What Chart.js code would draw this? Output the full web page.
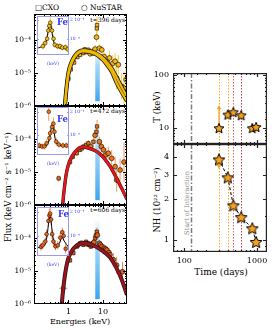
<!DOCTYPE html>
<html><head><meta charset="utf-8">
<script src="https://cdn.jsdelivr.net/npm/chart.js@4.4.1/dist/chart.umd.min.js"></script>
<style>
html,body{margin:0;padding:0;background:#fff;}
body{position:relative;width:274px;height:330px;overflow:hidden;font-family:"DejaVu Serif",serif;}
canvas{position:absolute;left:0;top:0;}
.lbl{position:absolute;white-space:nowrap;line-height:1;color:#000;}
.rot{transform:translate(-50%,-50%) rotate(-90deg);}
.fe{position:absolute;font-weight:bold;font-size:8.5px;color:#3434f2;line-height:1;font-family:"DejaVu Serif",serif;}
</style></head><body>
<div class="lbl" style="left:35px;top:4px;font-size:7.5px">□CXO</div>
<div class="lbl" style="left:81px;top:4px;font-size:7.5px">○ NuSTAR</div>
<div class="lbl" style="right:149px;top:17px;font-size:6px">t=396 days</div>
<div class="lbl" style="right:149px;top:108px;font-size:6px">t=472 days</div>
<div class="lbl" style="right:149px;top:207px;font-size:6px">t=606 days</div>
<div class="lbl rot" style="left:8px;top:187px;font-size:8.5px">Flux (keV cm⁻² s⁻¹ keV⁻¹)</div>
<div class="lbl" style="left:80px;top:322px;font-size:8px;transform:translate(-50%,-50%)">Energies (keV)</div>
<div class="lbl rot" style="left:157px;top:107px;font-size:8.5px">T (keV)</div>
<div class="lbl rot" style="left:157px;top:200px;font-size:8.5px">NH  (10²² cm⁻²)</div>
<div class="lbl" style="left:221px;top:272px;font-size:9px;transform:translate(-50%,-50%)">Time (days)</div>
<div class="lbl rot" style="left:187px;top:203px;font-size:6.5px;color:#8a8a8a">Start of Interaction</div>
<script>
// ================= DATA =================
const fluxTickVals = [1e-6, 1e-5, 1e-4];
const fluxTickText = ['10⁻⁶', '10⁻⁵', '10⁻⁴'];
const energyTickVals = [1, 10];
const feBand = [6.0, 8.1];
const bandTops = [5e-5, 2.5e-4, 3.5e-4];
const bandBottom = 1.4e-6;

// panel 1 : t = 396 days
const p1ModelAE = [0.72, 0.8, 0.9, 1.0, 1.2, 1.5, 2.0, 2.7, 4, 6, 8, 10, 13, 18, 25, 35, 50];
const p1ModelAF = [2e-7, 1e-6, 4e-6, 9e-6, 1.8e-5, 3.0e-5, 4.2e-5, 4.6e-5, 4.4e-5, 3.8e-5, 3.1e-5, 2.5e-5, 1.8e-5, 1.1e-5, 5e-6, 2.6e-6, 1.4e-6];
const p1ModelBE = [0.7, 0.78, 0.9, 1.0, 1.2, 1.5, 2.0, 2.7, 4, 6, 8, 10, 13, 18, 25, 35, 50];
const p1ModelBF = [2e-7, 1e-6, 5e-6, 1.1e-5, 2.1e-5, 3.3e-5, 4.5e-5, 5.0e-5, 4.8e-5, 4.2e-5, 3.5e-5, 2.9e-5, 2.2e-5, 1.4e-5, 7.5e-6, 3.8e-6, 1.9e-6];
const p1E = [1.0, 1.17, 1.46, 1.82, 2.17, 2.4, 2.72, 3.0, 3.25, 3.79, 4.24, 4.6, 5.08, 5.5, 5.93, 6.5, 6.65, 6.75, 7.9, 9.3, 10.8, 13, 15.5, 19.4, 22.6, 25, 28, 35, 41, 47];
const p1F = [6.8e-6, 1.3e-5, 2.1e-5, 3.1e-5, 3.6e-5, 4.6e-5, 4.1e-5, 5.3e-5, 4.4e-5, 5.1e-5, 3.9e-5, 4.5e-5, 4.1e-5, 4.8e-5, 5.4e-5, 1.24e-4, 2.3e-4, 2.9e-4, 5.7e-5, 5.1e-5, 3.2e-5, 2.3e-5, 2.9e-5, 2.0e-5, 2.3e-5, 7.1e-6, 1.8e-5, 4.0e-6, 3.5e-6, 6.3e-6];
const p1Err = [0.12, 0.1, 0.08, 0.08, 0.08, 0.08, 0.08, 0.08, 0.08, 0.1, 0.1, 0.1, 0.1, 0.1, 0.12, 0.15, 0.2, 0.25, 0.12, 0.12, 0.15, 0.18, 0.2, 0.25, 0.25, 0.35, 0.3, 0.4, 0.5, 0.45];
const p1Inst = ['C','C','C','C','C','C','C','C','C','C','N','C','N','C','N','N','C','C','N','N','N','N','N','N','N','N','N','N','N','N'];

// panel 2 : t = 472 days
const p2ModelE = [0.62, 0.68, 0.8, 0.9, 1.1, 1.4, 1.8, 2.3, 3, 4, 6, 8, 12, 16, 25, 35, 50];
const p2ModelF = [2e-7, 1e-6, 5e-6, 1.1e-5, 2.2e-5, 3.5e-5, 4.8e-5, 5.6e-5, 5.6e-5, 5.2e-5, 4.4e-5, 3.6e-5, 2.3e-5, 1.5e-5, 6.4e-6, 3.2e-6, 1.5e-6];
const p2E = [0.52, 1.11, 1.33, 1.74, 2.17, 2.45, 2.72, 3.25, 3.79, 4.45, 5.3, 5.93, 6.5, 6.75, 7.9, 9.0, 10.3, 12.2, 14.3, 18, 22.6, 25, 31.5, 41];
const p2F = [6.4e-6, 2.0e-5, 2.9e-5, 3.7e-5, 4.7e-5, 5.2e-5, 5.9e-5, 6.6e-5, 7.4e-5, 5.9e-5, 8.3e-5, 1.3e-4, 1.66e-4, 2.4e-4, 8.3e-5, 5.9e-5, 4.7e-5, 3.3e-5, 3.7e-5, 2.6e-5, 1.45e-5, 5.7e-6, 1.15e-5, 2.0e-5];
const p2Err = [0.1, 0.1, 0.1, 0.08, 0.08, 0.08, 0.08, 0.1, 0.1, 0.1, 0.12, 0.12, 0.15, 0.2, 0.15, 0.15, 0.15, 0.2, 0.2, 0.25, 0.3, 0.35, 0.35, 0.6];
const p2ErrX = [0.07, 0.03, 0.03, 0.03, 0.03, 0.03, 0.03, 0.03, 0.03, 0.03, 0.03, 0.02, 0.02, 0.02, 0.03, 0.03, 0.03, 0.03, 0.04, 0.04, 0.04, 0.04, 0.05, 0.05];
const p2Inst = ['C','C','C','C','C','C','C','C','C','N','C','N','C','C','N','N','N','N','N','N','N','N','N','N'];

// panel 3 : t = 606 days
const p3ModelE = [0.58, 0.64, 0.75, 0.85, 1.0, 1.3, 1.7, 2.3, 3, 4, 6, 10, 16, 25, 35, 50];
const p3ModelF = [2e-7, 1e-6, 5e-6, 1.2e-5, 2.5e-5, 4.3e-5, 5.8e-5, 6.8e-5, 7.0e-5, 6.6e-5, 5.6e-5, 4.0e-5, 2.6e-5, 1.2e-5, 5.5e-6, 1.9e-6];
const p3E = [0.71, 1.11, 1.39, 1.74, 1.9, 2.17, 2.4, 2.72, 3.0, 3.25, 3.5, 3.79, 4.1, 4.45, 4.8, 5.08, 5.5, 5.93, 6.4, 6.63, 6.9, 7.9, 8.5, 9.3, 10.8, 12, 13, 15, 16, 20, 25, 37];
const p3F = [3e-6, 2.1e-5, 3.5e-5, 5.5e-5, 6.0e-5, 6.9e-5, 7.2e-5, 6.2e-5, 6.8e-5, 7.7e-5, 7.0e-5, 6.2e-5, 6.5e-5, 5.5e-5, 6.0e-5, 6.9e-5, 7.5e-5, 9.8e-5, 1.2e-4, 1.55e-4, 1.23e-4, 6.9e-5, 6.2e-5, 5.5e-5, 4.9e-5, 4.6e-5, 4.3e-5, 3.6e-5, 3.1e-5, 2.2e-5, 1.5e-5, 9.5e-6];
const p3Err = [0.15, 0.08, 0.07, 0.06, 0.06, 0.06, 0.06, 0.06, 0.06, 0.06, 0.06, 0.07, 0.07, 0.07, 0.07, 0.08, 0.08, 0.1, 0.1, 0.12, 0.12, 0.1, 0.1, 0.1, 0.12, 0.12, 0.12, 0.15, 0.15, 0.2, 0.25, 0.3];
const p3ErrX = [0.12, 0.03, 0.03, 0.03, 0.03, 0.03, 0.03, 0.03, 0.03, 0.03, 0.03, 0.03, 0.03, 0.03, 0.03, 0.03, 0.03, 0.02, 0.02, 0.02, 0.02, 0.03, 0.03, 0.03, 0.03, 0.03, 0.03, 0.04, 0.04, 0.05, 0.05, 0.08];
const p3Inst = ['C','C','C','C','C','C','C','C','C','C','C','C','N','C','N','C','N','C','N','C','N','N','N','N','N','N','N','N','N','N','N','N'];

// Fe-line insets
const insetTickVals = [6, 7, 8];
const insetYTickVals = [1e-4, 2e-4];
const insetYTickText = ['10⁻⁴', '2 10⁻⁴'];
const in1E = [6.15, 6.36, 6.55, 6.66, 6.75, 6.85, 7.0, 7.15, 7.27, 7.52, 7.75, 7.97, 8.27, 8.48];
const in1F = [7.6e-5, 8.5e-5, 1.0e-4, 1.35e-4, 1.6e-4, 1.8e-4, 1.35e-4, 1.0e-4, 8.0e-5, 7.6e-5, 7.6e-5, 7.2e-5, 7.3e-5, 6.8e-5];
const in1Err = [0.05, 0.05, 0.06, 0.07, 0.08, 0.1, 0.07, 0.06, 0.05, 0.05, 0.05, 0.05, 0.05, 0.05];
const in1ModelE = [5.6, 6.2, 6.45, 6.6, 6.75, 6.85, 6.95, 7.1, 7.3, 7.6, 8.0, 8.6];
const in1ModelF = [7e-5, 7.8e-5, 9e-5, 1.2e-4, 1.65e-4, 1.75e-4, 1.5e-4, 1.0e-4, 7.8e-5, 7.2e-5, 7.0e-5, 6.8e-5];
const in2E = [5.81, 6.07, 6.29, 6.5, 6.7, 6.76, 6.83, 7.02, 7.14, 7.24, 7.4, 7.65, 8.03, 8.35];
const in2F = [7.3e-5, 7.1e-5, 7.1e-5, 7.8e-5, 2.0e-4, 9.1e-5, 1.05e-4, 1.27e-4, 1.4e-4, 1.1e-4, 8.2e-5, 7.5e-5, 7.3e-5, 7.3e-5];
const in2Err = [0.04, 0.04, 0.04, 0.05, 0.12, 0.05, 0.06, 0.07, 0.08, 0.07, 0.05, 0.04, 0.04, 0.04];
const in2ModelE = [5.6, 6.3, 6.6, 6.8, 6.95, 7.05, 7.15, 7.3, 7.5, 8.0, 8.6];
const in2ModelF = [7e-5, 7.1e-5, 7.6e-5, 9.5e-5, 1.25e-4, 1.38e-4, 1.25e-4, 9e-5, 7.6e-5, 7.2e-5, 7e-5];
const in3E = [5.97, 6.12, 6.38, 6.5, 6.67, 6.76, 6.83, 6.92, 7.02, 7.14, 7.33, 7.55, 7.78, 7.97, 8.1, 8.29];
const in3F = [7.2e-5, 7.5e-5, 8.4e-5, 1.04e-4, 1.53e-4, 1.8e-4, 1.9e-4, 1.6e-4, 1.04e-4, 8.4e-5, 7.3e-5, 7.5e-5, 9.4e-5, 1.1e-4, 9.9e-5, 6.8e-5];
const in3Err = [0.05, 0.05, 0.05, 0.06, 0.07, 0.08, 0.08, 0.07, 0.06, 0.05, 0.05, 0.05, 0.06, 0.06, 0.06, 0.06];
const in3ModelE = [5.6, 6.3, 6.55, 6.7, 6.8, 6.9, 7.0, 7.15, 7.4, 7.7, 7.95, 8.15, 8.6];
const in3ModelF = [7e-5, 7.5e-5, 1.0e-4, 1.5e-4, 1.75e-4, 1.6e-4, 1.2e-4, 8.5e-5, 7.3e-5, 8e-5, 9.5e-5, 8.5e-5, 7e-5];

// evolution panels
const obsDays = [300, 396, 472, 606, 860, 970];
const tempKeV = [10, 18, 20, 17.5, 10, 10.5];
const tLowerLimit = [27, null, null, null, null, null];
const nh22 = [3.86, 2.86, 1.79, 1.47, 1.22, 0.97];
const nhUpperLimit = [3.3, null, null, null, null, null];
const epochLines = [300, 396, 472, 606];
const epochLineColors = ['#f5a623', '#f5a623', '#e0606a', '#c8404e'];
const interactionStart = 125;
const timeTickVals = [100, 1000];
const tTickVals = [10, 100];
const nhTickVals = [1, 2, 3, 4];

// ================= RENDERING =================
const W = 274, H = 330;
const FONT = '"DejaVu Serif", serif';
const near = (a, b) => Math.abs(a - b) <= 1e-6 * Math.abs(b);
const zip = (xs, ys) => xs.map((x, i) => ({x: x, y: ys[i]}));
function addCanvas() {
  const c = document.createElement('canvas');
  c.width = W; c.height = H; c.style.width = W + 'px'; c.style.height = H + 'px';
  document.body.appendChild(c); return c;
}
function fix(size) {
  return s => { if (s.isHorizontal()) s.height = size; else s.width = size;
    s.paddingLeft = s.paddingRight = s.paddingTop = s.paddingBottom = 0; };
}
function labeler(vals, texts) {
  return v => { const i = vals.findIndex(t => near(v, t)); return i >= 0 ? (texts ? texts[i] : String(vals[i])) : ''; };
}

const bandPlugin = {
  id: 'band',
  beforeDatasetsDraw(chart, args, o) {
    if (!o || o.from == null) return;
    const {ctx, scales: {x, y}} = chart;
    const x0 = x.getPixelForValue(o.from), x1 = x.getPixelForValue(o.to);
    const y0 = y.getPixelForValue(o.low), y1 = y.getPixelForValue(o.high);
    const g = ctx.createLinearGradient(0, y1, 0, y0);
    g.addColorStop(0, 'rgba(120,195,245,0.05)');
    g.addColorStop(0.3, 'rgba(100,188,245,0.6)');
    g.addColorStop(1, 'rgba(60,165,240,1)');
    ctx.save(); ctx.fillStyle = g; ctx.fillRect(x0, y1, x1 - x0, y0 - y1); ctx.restore();
  }
};
const errPlugin = {
  id: 'errbars',
  beforeDatasetsDraw(chart) {
    const {ctx, chartArea: a, scales: {x, y}} = chart;
    ctx.save(); ctx.beginPath(); ctx.rect(a.left, a.top, a.right - a.left, a.bottom - a.top); ctx.clip();
    chart.data.datasets.forEach(ds => {
      if (!ds.errY && !ds.errX) return;
      ctx.strokeStyle = ds.errColor; ctx.lineWidth = 1;
      ds.data.forEach((p, i) => {
        const px = x.getPixelForValue(p.x), py = y.getPixelForValue(p.y);
        ctx.beginPath();
        if (ds.errY) { const f = Math.pow(10, ds.errY[i]); ctx.moveTo(px, y.getPixelForValue(p.y * f)); ctx.lineTo(px, y.getPixelForValue(p.y / f)); }
        if (ds.errX && ds.errX[i]) { const f = Math.pow(10, ds.errX[i]); ctx.moveTo(x.getPixelForValue(p.x / f), py); ctx.lineTo(x.getPixelForValue(p.x * f), py); }
        ctx.stroke();
      });
    });
    ctx.restore();
  }
};
const framePlugin = {
  id: 'frame',
  afterDatasetsDraw(chart, args, o) {
    const {ctx, chartArea: a} = chart;
    ctx.save();
    ctx.strokeStyle = o.color || '#000'; ctx.lineWidth = o.lineWidth || 1;
    if (o.ticks !== false) {
      Object.values(chart.scales).forEach(s => {
        (s.ticks || []).forEach(t => {
          const v = t.value; if (v <= s.min || v >= s.max) return;
          const lg = Math.log10(v);
          const major = (t.label && t.label !== '') || (s.type === 'logarithmic' && Math.abs(lg - Math.round(lg)) < 1e-6);
          const L = major ? (o.major || 4) : (o.minor || 2);
          const p = Math.round(s.getPixelForValue(v)) + 0.5;
          ctx.beginPath();
          if (s.isHorizontal()) { ctx.moveTo(p, a.bottom); ctx.lineTo(p, a.bottom - L); ctx.moveTo(p, a.top); ctx.lineTo(p, a.top + L); }
          else { ctx.moveTo(a.left, p); ctx.lineTo(a.left + L, p); ctx.moveTo(a.right, p); ctx.lineTo(a.right - L, p); }
          ctx.stroke();
        });
      });
    }
    const lw = o.lineWidth || 1;
    ctx.strokeRect(a.left + lw / 2, a.top + lw / 2, a.right - a.left - lw, a.bottom - a.top - lw);
    ctx.restore();
  }
};
const vlinePlugin = {
  id: 'vlines',
  beforeDatasetsDraw(chart, args, o) {
    if (!o || !o.times) return;
    const {ctx, chartArea: a, scales: {x}} = chart;
    ctx.save();
    o.times.forEach((t, i) => {
      const px = Math.round(x.getPixelForValue(t)) + 0.5;
      ctx.strokeStyle = o.colors[i]; ctx.lineWidth = o.widths[i]; ctx.setLineDash(o.dashes[i]);
      ctx.beginPath(); ctx.moveTo(px, a.top); ctx.lineTo(px, a.bottom); ctx.stroke();
    });
    ctx.restore();
  }
};
const limitPlugin = {
  id: 'limits',
  beforeDatasetsDraw(chart, args, o) {
    if (!o || !o.to) return;
    const {ctx, scales: {x, y}} = chart;
    const ds = chart.data.datasets[0];
    ctx.save(); ctx.strokeStyle = o.color; ctx.fillStyle = o.color; ctx.lineWidth = 1.3;
    ds.data.forEach((p, i) => {
      const to = o.to[i]; if (to == null) return;
      const px = x.getPixelForValue(p.x), py = y.getPixelForValue(p.y), pt = y.getPixelForValue(to);
      const dir = pt < py ? -1 : 1;
      ctx.beginPath(); ctx.moveTo(px, py); ctx.lineTo(px, pt - dir * 2); ctx.stroke();
      ctx.beginPath(); ctx.moveTo(px, pt); ctx.lineTo(px - 2.5, pt - dir * 4); ctx.lineTo(px + 2.5, pt - dir * 4); ctx.closePath(); ctx.fill();
    });
    ctx.restore();
  }
};

function baseOpts(area, axis) {
  return {
    responsive: false, animation: false, events: [],
    layout: {padding: {left: area.l - (axis.left || 0), right: W - area.r - (axis.right || 0), top: area.t, bottom: H - area.b - (axis.bottom || 0)}},
    plugins: {legend: {display: false}, tooltip: {enabled: false}}
  };
}

function spectrum(area, ymax, showX, models, pts, colors, band) {
  const xAxisH = showX ? 14 : 0;
  const opts = baseOpts(area, {left: 24, bottom: xAxisH});
  opts.plugins.band = band; opts.plugins.frame = {color: '#000', lineWidth: 1};
  opts.scales = {
    x: {type: 'logarithmic', min: 0.1, max: 50, afterFit: fix(xAxisH), grid: {display: false, drawTicks: false}, border: {display: false},
        ticks: {display: showX, autoSkip: false, maxRotation: 0, minRotation: 0, padding: 3, color: '#000', font: {family: FONT, size: 8}, callback: labeler(energyTickVals)}},
    y: {type: 'logarithmic', min: 1e-6, max: ymax, afterFit: fix(24), grid: {display: false, drawTicks: false}, border: {display: false},
        ticks: {autoSkip: false, padding: 3, color: '#000', font: {family: FONT, size: 7.5}, callback: labeler(fluxTickVals, fluxTickText)}}
  };
  const ds = [];
  models.forEach(m => {
    ds.push({data: zip(m[0], m[1]), borderColor: colors.line, borderWidth: colors.lw, pointRadius: 0, cubicInterpolationMode: 'monotone', fill: false, order: 1});
    if (colors.outline) ds.push({data: zip(m[0], m[1]), borderColor: '#1a1a1a', borderWidth: colors.lw + colors.outline, pointRadius: 0, cubicInterpolationMode: 'monotone', fill: false, order: 2});
  });
  ds.push({data: zip(pts.E, pts.F), showLine: false, pointRadius: 2.4, pointStyle: pts.inst.map(s => s === 'C' ? 'rect' : 'circle'),
    pointBackgroundColor: colors.pt, pointBorderColor: '#000', pointBorderWidth: 0.6, errY: pts.err, errX: pts.errX, errColor: colors.err, order: 3});
  return new Chart(addCanvas(), {type: 'line', data: {datasets: ds}, options: opts, plugins: [bandPlugin, errPlugin, framePlugin]});
}

function inset(area, E, F, err, mE, mF, ptColor, errColor) {
  const blue = '#4646e8';
  const opts = baseOpts(area, {right: 16, bottom: 12});
  opts.plugins.frame = {color: '#9a9af2', lineWidth: 1, major: 2, minor: 1};
  opts.scales = {
    x: {type: 'linear', min: 5.6, max: 8.6, afterFit: fix(12), grid: {display: false, drawTicks: false}, border: {display: false},
        title: {display: true, text: '(keV)', color: blue, font: {family: FONT, size: 4.5}, padding: 0},
        ticks: {stepSize: 1, includeBounds: false, autoSkip: false, maxRotation: 0, padding: 1, color: blue, font: {family: FONT, size: 5}, callback: labeler(insetTickVals)}},
    y: {type: 'logarithmic', position: 'right', min: 5.5e-5, max: 2.3e-4, afterFit: fix(16), grid: {display: false, drawTicks: false}, border: {display: false},
        ticks: {autoSkip: false, padding: 1, color: blue, font: {family: FONT, size: 4.5}, callback: labeler(insetYTickVals, insetYTickText)}}
  };
  const ds = [
    {data: zip(E, F), showLine: false, pointRadius: 1.9, pointStyle: 'circle', pointBackgroundColor: ptColor, pointBorderColor: '#000', pointBorderWidth: 0.5, errY: err, errColor: errColor, order: 0},
    {data: zip(mE, mF), borderColor: '#000', borderWidth: 1, pointRadius: 0, cubicInterpolationMode: 'monotone', fill: false, order: 1}
  ];
  return new Chart(addCanvas(), {type: 'line', data: {datasets: ds}, options: opts, plugins: [errPlugin, framePlugin]});
}

function starImg(size) {
  const c = document.createElement('canvas'); c.width = c.height = size;
  const g = c.getContext('2d'); const R = size / 2 - 0.8, r = R * 0.46, cx = size / 2, cy = size / 2 + R * 0.1;
  g.beginPath();
  for (let i = 0; i < 10; i++) { const an = -Math.PI / 2 + i * Math.PI / 5; const rr = i % 2 ? r : R; g.lineTo(cx + rr * Math.cos(an), cy + rr * Math.sin(an)); }
  g.closePath(); g.fillStyle = '#f7a01c'; g.fill(); g.lineWidth = 1; g.strokeStyle = '#000'; g.stroke();
  return c;
}

function evolution(area, showX, yScale, values, limits, limitColor, star, dashed) {
  const xAxisH = showX ? 16 : 0;
  const opts = baseOpts(area, {left: 24, bottom: xAxisH});
  opts.plugins.frame = {color: '#222', lineWidth: 1.2, major: 4, minor: 2};
  opts.plugins.vlines = {
    times: epochLines.concat([interactionStart]),
    colors: epochLineColors.concat(['#7c7c7c']),
    widths: [1, 1, 1, 1, 1.5],
    dashes: [[1.5, 1.5], [1.5, 1.5], [1.5, 1.5], [1.5, 1.5], [5, 2, 1.5, 2]]
  };
  opts.plugins.limits = {to: limits, color: limitColor};
  opts.scales = {
    x: {type: 'logarithmic', min: 70, max: 1370, afterFit: fix(xAxisH), grid: {display: false, drawTicks: false}, border: {display: false},
        ticks: {display: showX, autoSkip: false, maxRotation: 0, minRotation: 0, padding: 4, color: '#000', font: {family: FONT, size: 8}, callback: labeler(timeTickVals)}},
    y: {type: 'logarithmic', min: yScale.min, max: yScale.max, afterFit: fix(24), grid: {display: false, drawTicks: false}, border: {display: false},
        ticks: {autoSkip: false, padding: 4, color: '#000', font: {family: FONT, size: 8}, callback: labeler(yScale.ticks)}}
  };
  const ds = [{data: zip(obsDays, values), showLine: dashed, borderColor: '#000', borderWidth: 1, borderDash: [3, 2],
    pointStyle: star, pointRadius: 6, fill: false, tension: 0}];
  return new Chart(addCanvas(), {type: 'line', data: {datasets: ds}, options: opts, plugins: [vlinePlugin, limitPlugin, framePlugin]});
}

// --- left: spectra ---
spectrum({l: 34, r: 127, t: 14, b: 106}, 6.3e-4, false,
  [[p1ModelBE, p1ModelBF], [p1ModelAE, p1ModelAF]],
  {E: p1E, F: p1F, err: p1Err, inst: p1Inst},
  {line: '#f0b800', lw: 2.2, outline: 1.6, pt: '#f5b914', err: '#f7c94a'},
  {from: feBand[0], to: feBand[1], low: bandBottom, high: bandTops[0]});
spectrum({l: 34, r: 127, t: 106, b: 205}, 1e-3, false,
  [[p2ModelE, p2ModelF]],
  {E: p2E, F: p2F, err: p2Err, errX: p2ErrX, inst: p2Inst},
  {line: '#e3161b', lw: 2.6, outline: 0.8, pt: '#ee7418', err: '#f39a5c'},
  {from: feBand[0], to: feBand[1], low: bandBottom, high: bandTops[1]});
spectrum({l: 34, r: 127, t: 205, b: 304}, 1e-3, true,
  [[p3ModelE, p3ModelF]],
  {E: p3E, F: p3F, err: p3Err, errX: p3ErrX, inst: p3Inst},
  {line: '#a0101e', lw: 2.6, outline: 1.4, pt: '#e2621c', err: '#f0805a'},
  {from: feBand[0], to: feBand[1], low: bandBottom, high: bandTops[2]});

// --- insets ---
inset({l: 37, r: 69, t: 16, b: 55}, in1E, in1F, in1Err, in1ModelE, in1ModelF, '#f5b914', '#f7c94a');
inset({l: 37, r: 69, t: 107, b: 155}, in2E, in2F, in2Err, in2ModelE, in2ModelF, '#ee7418', '#f39a5c');
inset({l: 37, r: 69, t: 207, b: 256}, in3E, in3F, in3Err, in3ModelE, in3ModelF, '#e2621c', '#f0805a');

// --- right: evolution ---
evolution({l: 173, r: 268, t: 73, b: 144}, false, {min: 5, max: 110, ticks: tTickVals}, tempKeV, tLowerLimit, '#f5a623', starImg(12), false);
evolution({l: 173, r: 268, t: 144, b: 252}, true, {min: 0.82, max: 5, ticks: nhTickVals}, nh22, nhUpperLimit, '#f5a623', starImg(14), true);
</script>
<div class="fe" style="left:57px;top:18px">Fe</div>
<div class="fe" style="left:57px;top:115px">Fe</div>
<div class="fe" style="left:58px;top:210px">Fe</div>
</body></html>
